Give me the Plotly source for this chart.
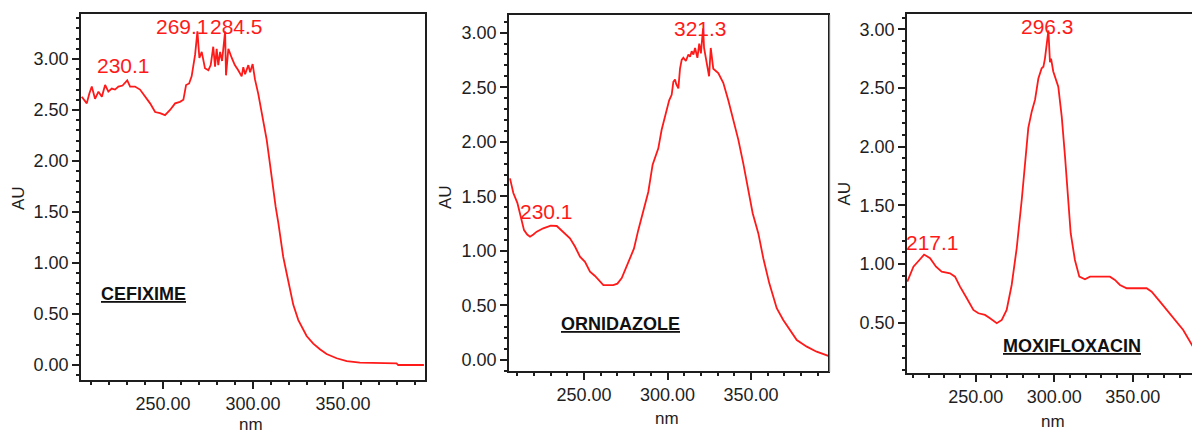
import plotly.graph_objects as go

# ---- spectra (wavelength in nm, absorbance in AU) ----
cefixime_nm = [204.8, 207.6, 209.0, 210.4, 212.2, 214.1, 216.0, 217.8, 219.6, 221.5,
               223.3, 225.2, 227.5, 230.1, 231.7, 234.4, 237.2, 240.0, 242.8, 245.6,
               248.3, 251.1, 253.9, 256.7, 259.4, 261.3, 262.8, 264.5, 265.9, 267.8,
               268.7, 269.1, 270.2, 271.5, 273.3, 275.2, 276.5, 277.9, 278.9, 279.8,
               280.7, 281.7, 282.8, 284.5, 285.0, 286.3, 288.2, 289.9, 291.8, 293.7,
               294.6, 295.6, 297.4, 298.4, 299.8, 301.1, 302.9, 304.8, 306.1, 307.6,
               308.9, 310.0, 311.3, 312.6, 314.1, 315.4, 316.8, 318.7, 320.6, 322.4,
               325.2, 327.9, 329.8, 333.5, 337.2, 340.9, 346.5, 352.1, 359.4, 379.8,
               380.7, 395.0]
cefixime_au = [2.63, 2.565, 2.66, 2.73, 2.61, 2.68, 2.63, 2.745, 2.68, 2.71,
               2.70, 2.73, 2.74, 2.79, 2.73, 2.73, 2.70, 2.63, 2.565, 2.48,
               2.47, 2.45, 2.50, 2.565, 2.58, 2.60, 2.745, 2.76, 2.83, 3.04,
               3.19, 3.27, 3.01, 3.07, 2.91, 2.89, 2.94, 3.12, 2.925, 3.10,
               2.94, 3.07, 2.98, 3.27, 2.84, 3.10, 3.01, 2.94, 2.89, 2.83,
               2.92, 2.85, 2.94, 2.87, 2.95, 2.80, 2.66, 2.48, 2.34, 2.21,
               2.04, 1.88, 1.72, 1.55, 1.39, 1.23, 1.06, 0.90, 0.735, 0.59,
               0.44, 0.343, 0.284, 0.21, 0.154, 0.108, 0.066, 0.039, 0.023, 0.016,
               0.0, 0.0]

ornidazole_nm = [205.7, 207.7, 210.1, 212.1, 214.1, 216.0, 217.7, 219.7, 221.7, 225.6,
                 228.6, 230.1, 233.7, 237.6, 241.6, 244.6, 247.6, 250.6, 253.6, 256.6,
                 259.0, 261.6, 267.5, 270.0, 272.6, 275.6, 277.8, 279.9, 282.5, 285.5,
                 288.5, 291.1, 294.5, 296.5, 299.5, 301.0, 302.5, 303.5, 304.5, 305.2,
                 306.5, 307.5, 308.5, 309.5, 311.0, 312.5, 313.5, 314.5, 315.5, 316.5,
                 317.9, 319.0, 320.0, 321.3, 321.9, 323.5, 324.9, 325.9, 327.4, 330.4,
                 333.4, 336.4, 339.4, 342.4, 345.4, 348.4, 351.0, 354.4, 357.4, 361.0,
                 365.4, 369.3, 373.4, 377.4, 383.4, 389.3, 396.3]
ornidazole_au = [1.665, 1.53, 1.44, 1.30, 1.19, 1.15, 1.13, 1.15, 1.176, 1.207,
                 1.228, 1.232, 1.228, 1.176, 1.115, 1.04, 0.947, 0.90, 0.81, 0.77,
                 0.73, 0.687, 0.687, 0.70, 0.75, 0.855, 0.94, 1.02, 1.19, 1.375,
                 1.54, 1.79, 1.94, 2.11, 2.31, 2.38, 2.43, 2.55, 2.57, 2.53,
                 2.49, 2.67, 2.75, 2.77, 2.74, 2.80, 2.78, 2.83, 2.80, 2.86,
                 2.77, 2.90, 2.81, 3.04, 2.86, 2.73, 2.60, 2.86, 2.67, 2.63,
                 2.54, 2.38, 2.20, 2.02, 1.80, 1.56, 1.345, 1.16, 0.93, 0.70,
                 0.474, 0.367, 0.275, 0.183, 0.122, 0.076, 0.037]

moxifloxacin_nm = [206.4, 208.5, 210.3, 214.1, 217.1, 220.9, 224.7, 228.3, 233.6, 236.8,
                   240.0, 244.3, 248.5, 251.7, 255.9, 259.1, 263.4, 266.6, 269.7, 272.9,
                   276.1, 279.3, 280.3, 282.0, 283.5, 285.7, 287.8, 289.9, 292.0, 293.1,
                   294.1, 296.3, 297.3, 298.0, 299.4, 302.6, 304.8, 306.9, 308.4, 310.5,
                   313.2, 316.0, 319.6, 322.8, 335.5, 338.7, 341.9, 346.2, 358.9, 362.1,
                   367.4, 371.6, 378.0, 382.2, 387.8, 392.0]
moxifloxacin_au = [0.849, 0.92, 0.977, 1.034, 1.080, 1.049, 0.977, 0.935, 0.921, 0.892,
                   0.807, 0.708, 0.608, 0.580, 0.566, 0.537, 0.495, 0.523, 0.608, 0.821,
                   1.134, 1.545, 1.70, 1.943, 2.16, 2.30, 2.40, 2.58, 2.668, 2.68,
                   2.75, 2.99, 2.72, 2.75, 2.64, 2.51, 2.255, 1.914, 1.603, 1.262,
                   1.034, 0.892, 0.870, 0.892, 0.892, 0.864, 0.821, 0.793, 0.793, 0.764,
                   0.679, 0.608, 0.508, 0.438, 0.31, 0.22]

# ---- peak labels (wavelengths written above the maxima) ----
cefixime_peaks = [230.1, 269.1, 284.5]
ornidazole_peaks = [230.1, 321.3]
moxifloxacin_peaks = [217.1, 296.3]

drug_names = ["CEFIXIME", "ORNIDAZOLE", "MOXIFLOXACIN"]

W, H = 1192, 433
FONT = "Liberation Sans, Arial, sans-serif"
INK = "#1e1e1e"
RED = "#ff1a1a"


def px_x(p):
    return p / W


def px_y(p):
    return 1 - p / H


# per-panel frame: pixel box, axis ranges, label placement (data coords)
panels = [
    dict(nm=cefixime_nm, au=cefixime_au, peaks=cefixime_peaks,
         box=(81, 425, 14, 380), xr=(204.4, 395.6), yr=(-0.147, 3.441),
         mirror_y=True,
         peak_pos=[(228.1, 2.936), (260.6, 3.314), (290.6, 3.314)],
         name_pos=(239.2, 0.70), au_pos=(18, 198), nm_pos=(251, 424)),
    dict(nm=ornidazole_nm, au=ornidazole_au, peaks=ornidazole_peaks,
         box=(509, 828, 15, 371), xr=(205.1, 396.1), yr=(-0.101, 3.162),
         mirror_y=True,
         peak_pos=[(227.5, 1.361), (319.8, 3.038)],
         name_pos=(271.6, 0.33), au_pos=(445, 197), nm_pos=(667, 418)),
    dict(nm=moxifloxacin_nm, au=moxifloxacin_au, peaks=moxifloxacin_peaks,
         box=(907, 1192, 14, 373), xr=(206.2, 387.8), yr=(0.071, 3.130),
         mirror_y=False,
         peak_pos=[(222.5, 1.183), (295.7, 3.020)],
         name_pos=(311.3, 0.30), au_pos=(843.5, 194), nm_pos=(1053, 421)),
]

fig = go.Figure()
annotations = []
layout_axes = {}

for i, p in enumerate(panels, start=1):
    xs = "" if i == 1 else str(i)
    fig.add_trace(go.Scatter(
        x=p["nm"], y=p["au"], mode="lines",
        line=dict(color=RED, width=1.8),
        xaxis="x" + xs, yaxis="y" + xs, showlegend=False, hoverinfo="skip",
    ))
    x0, x1, y0, y1 = p["box"]
    layout_axes["xaxis" + xs] = dict(
        domain=[px_x(x0), min(1.0, px_x(x1))], range=list(p["xr"]),
        anchor="y" + xs, showline=True, mirror=True, linecolor=INK, linewidth=1.6,
        ticks="outside", ticklen=7, tickwidth=1.5, tickcolor=INK,
        tick0=0, dtick=50, tickformat=".2f",
        tickfont=dict(family=FONT, size=18, color=INK),
        showgrid=False, zeroline=False, fixedrange=True,
        minor=dict(ticks="outside", ticklen=3.5, tickwidth=1.5, tickcolor=INK,
                   dtick=10, tick0=0, showgrid=False),
    )
    layout_axes["yaxis" + xs] = dict(
        domain=[px_y(y1), px_y(y0)], range=list(p["yr"]),
        anchor="x" + xs, showline=True, mirror=p["mirror_y"], linecolor=INK,
        linewidth=1.6,
        ticks="outside", ticklen=7, tickwidth=1.5, tickcolor=INK,
        tick0=0, dtick=0.5, tickformat=".2f",
        tickfont=dict(family=FONT, size=18, color=INK),
        showgrid=False, zeroline=False, fixedrange=True,
        minor=dict(ticks="outside", ticklen=3, tickwidth=1.5, tickcolor=INK,
                   dtick=0.1, tick0=0, showgrid=False),
    )

    # red peak wavelength labels
    for wl, (ax_, ay_) in zip(p["peaks"], p["peak_pos"]):
        annotations.append(dict(
            x=ax_, y=ay_, xref="x" + xs, yref="y" + xs, text=f"{wl:.1f}",
            showarrow=False, xanchor="center", yanchor="middle",
            font=dict(family=FONT, size=21, color=RED),
        ))

    # compound name, bold and underlined
    annotations.append(dict(
        x=p["name_pos"][0], y=p["name_pos"][1], xref="x" + xs, yref="y" + xs,
        text=f"<b><u>{drug_names[i - 1]}</u></b>", showarrow=False,
        xanchor="center", yanchor="middle",
        font=dict(family=FONT, size=18, color="#111111"),
    ))

    # axis titles
    annotations.append(dict(
        x=px_x(p["au_pos"][0]), y=px_y(p["au_pos"][1]), xref="paper", yref="paper",
        text="AU", textangle=-90, showarrow=False, xanchor="center", yanchor="middle",
        font=dict(family=FONT, size=17, color=INK),
    ))
    annotations.append(dict(
        x=px_x(p["nm_pos"][0]), y=px_y(p["nm_pos"][1]), xref="paper", yref="paper",
        text="nm", showarrow=False, xanchor="center", yanchor="middle",
        font=dict(family=FONT, size=17, color=INK),
    ))

fig.update_layout(
    width=W, height=H,
    margin=dict(l=0, r=0, t=0, b=0),
    paper_bgcolor="white", plot_bgcolor="white",
    annotations=annotations,
    shapes=[dict(type="line", xref="paper", yref="paper",
                 x0=px_x(830), x1=px_x(830), y0=px_y(372), y1=px_y(15),
                 line=dict(color="#d4d4d4", width=1))],
    **layout_axes,
)

fig.write_html("out.html")
